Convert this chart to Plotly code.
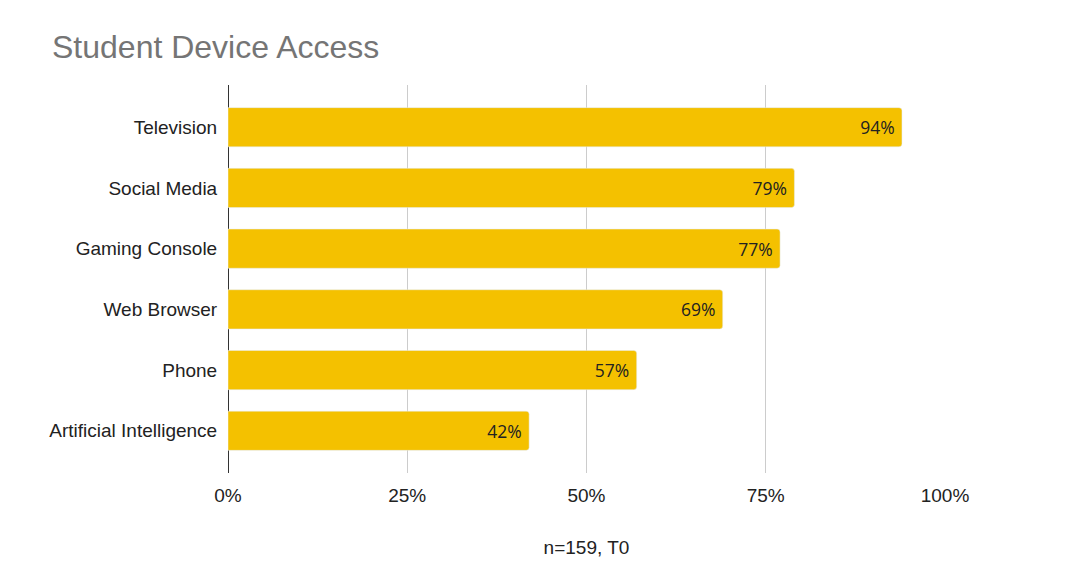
import plotly.graph_objects as go

# data
devices = ["Television", "Social Media", "Gaming Console",
           "Web Browser", "Phone", "Artificial Intelligence"]
access_share = [0.94, 0.79, 0.77, 0.69, 0.57, 0.42]
x_ticks = [0, 0.25, 0.5, 0.75, 1.0]
x_tick_labels = ["0%", "25%", "50%", "75%", "100%"]

BAR_COLOR = "#F4C100"

# the page body adds an 8px margin, so the figure is a little smaller than the window
W, H = 1076, 566

fig = go.Figure(go.Bar(
    x=access_share,
    y=devices,
    orientation="h",
    marker=dict(color=BAR_COLOR, cornerradius=3),
    texttemplate="%{x:.0%}\u2005",
    textposition="inside",
    insidetextanchor="end",
    textangle=0,
    textfont=dict(family="Open Sans", size=17.5, color="#222222"),
    cliponaxis=False,
    hoverinfo="skip",
))

fig.update_layout(
    width=W, height=H,
    margin=dict(l=220, r=139, t=77, b=101),
    plot_bgcolor="white", paper_bgcolor="white",
    bargap=0.354,
    showlegend=False,
    title=dict(
        text="Student Device Access",
        font=dict(family="Liberation Sans, Arial", size=32, color="#757575"),
        x=44 / W, xref="container", xanchor="left",
        y=1 - 39 / H, yref="container", yanchor="middle",
    ),
    font=dict(family="Liberation Sans, Arial", size=19, color="#222222"),
)

fig.update_xaxes(
    range=[0, 1.0],
    tickvals=x_ticks, ticktext=x_tick_labels,
    showgrid=True, gridcolor="#cccccc", gridwidth=1.3,
    zeroline=True, zerolinecolor="#333333", zerolinewidth=1.3,
    showline=False,
    ticks="outside", ticklen=5, tickcolor="rgba(0,0,0,0)",
    tickfont=dict(size=19, color="#222222"),
    title=dict(text="n=159, T0", font=dict(size=19, color="#222222"), standoff=35),
)

fig.update_yaxes(
    categoryorder="array", categoryarray=devices,
    range=[5.696, -0.696],
    showgrid=False, zeroline=False, showline=False,
    ticks="outside", ticklen=6, tickcolor="rgba(0,0,0,0)",
    tickfont=dict(size=19, color="#222222"),
)

fig.write_html("out.html")
